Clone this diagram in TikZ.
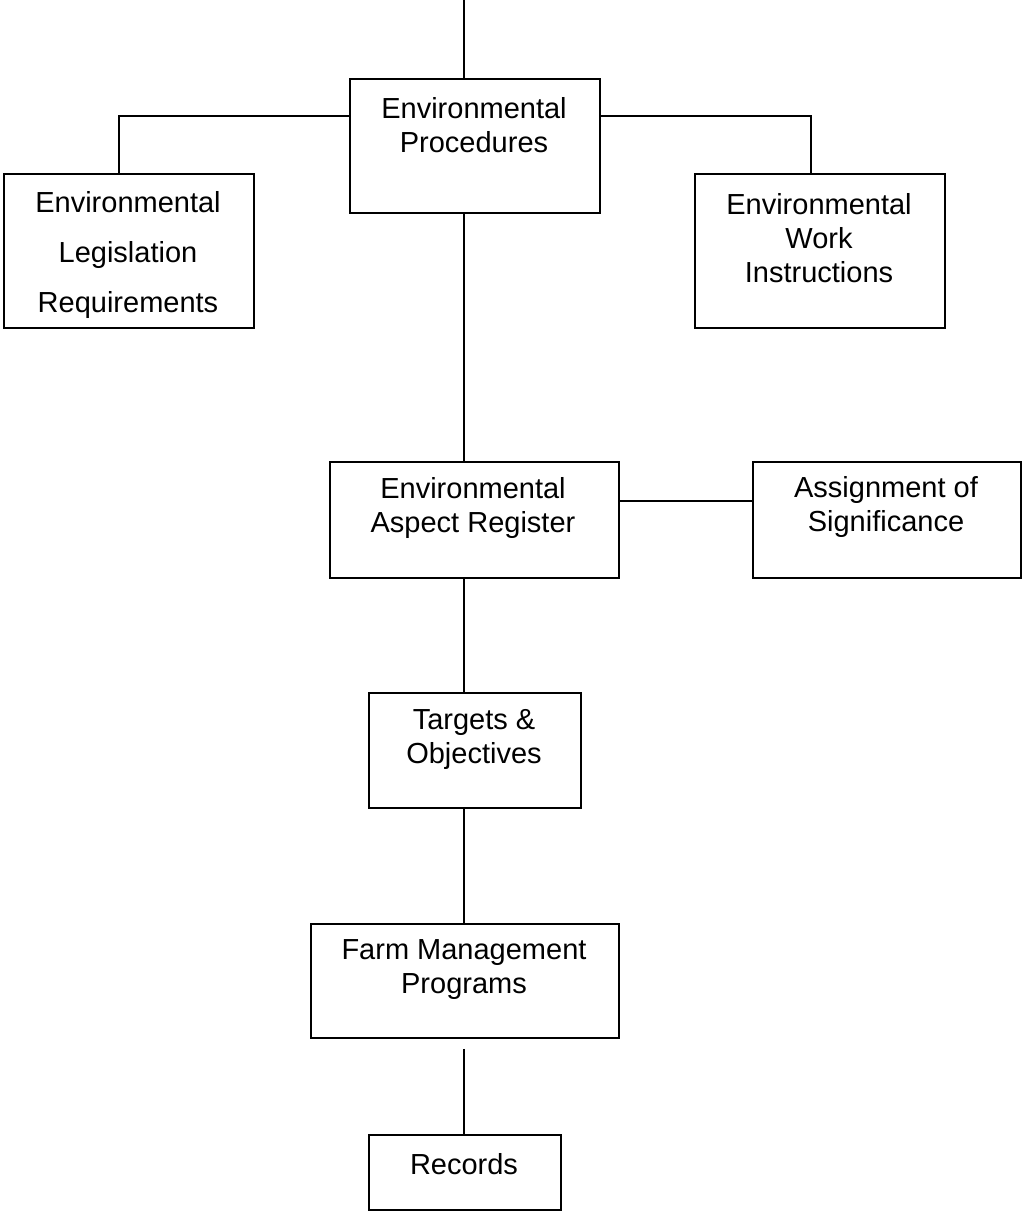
\documentclass[tikz,border=0pt]{standalone}
\usepackage{fontspec}
\setmainfont{Liberation Sans}
\begin{document}
\begin{tikzpicture}[x=1pt,y=-1pt,
  box/.style={draw,line width=1.8pt,inner sep=0pt,anchor=north west},
  lbl/.style={align=center,inner sep=0pt,font=\fontsize{29}{34}\selectfont},
  conn/.style={line width=1.8pt}]
\useasboundingbox (0,0) rectangle (1021,1211);
\coordinate (spine) at (464,0);
% boxes
\node[box,minimum width=250pt,minimum height=134pt] (proc) at (349,78) {};
\node[box,minimum width=250pt,minimum height=154pt] (leg) at (3,173) {};
\node[box,minimum width=250pt,minimum height=154pt] (work) at (694,173) {};
\node[box,minimum width=289pt,minimum height=116pt] (aspect) at (329,461) {};
\node[box,minimum width=268pt,minimum height=116pt] (assign) at (752,461) {};
\node[box,minimum width=212pt,minimum height=115pt] (targets) at (368,692) {};
\node[box,minimum width=308pt,minimum height=114pt] (farm) at (310,923) {};
\node[box,minimum width=192pt,minimum height=75pt] (records) at (368,1134) {};
% texts
\node[lbl] (procT) at (474,125) {Environmental\\Procedures};
\node[lbl,font=\fontsize{29}{50}\selectfont] (legT) at (128,255) {Environmental\\Legislation\\Requirements};
\node[lbl] (workT) at (819,238) {Environmental\\Work\\Instructions};
\node[lbl] (aspectT) at (473,508) {Environmental\\Aspect Register};
\node[lbl] (assignT) at (886,507) {Assignment of\\Significance};
\node[lbl] (targetsT) at (474,739) {Targets \&\\Objectives};
\node[lbl] (farmT) at (464,970) {Farm Management\\Programs};
\node[lbl] (recordsT) at (464,1164) {Records};
% connectors
\draw[conn] (spine) -- (proc.north -| spine);
\draw[conn] ([yshift=-38pt]proc.north west) -| ([xshift=-10pt]leg.north);
\draw[conn] ([yshift=-38pt]proc.north east) -| ([xshift=-9pt]work.north);
\draw[conn] (proc.south -| spine) -- (aspect.north -| spine);
\draw[conn] ([yshift=19pt]aspect.east) -- ([yshift=19pt]aspect.east -| assign.west);
\draw[conn] (aspect.south -| spine) -- (targets.north -| spine);
\draw[conn] (targets.south -| spine) -- (farm.north -| spine);
\draw[conn] ([yshift=-10pt]farm.south -| spine) -- (records.north -| spine);
\end{tikzpicture}
\end{document}
